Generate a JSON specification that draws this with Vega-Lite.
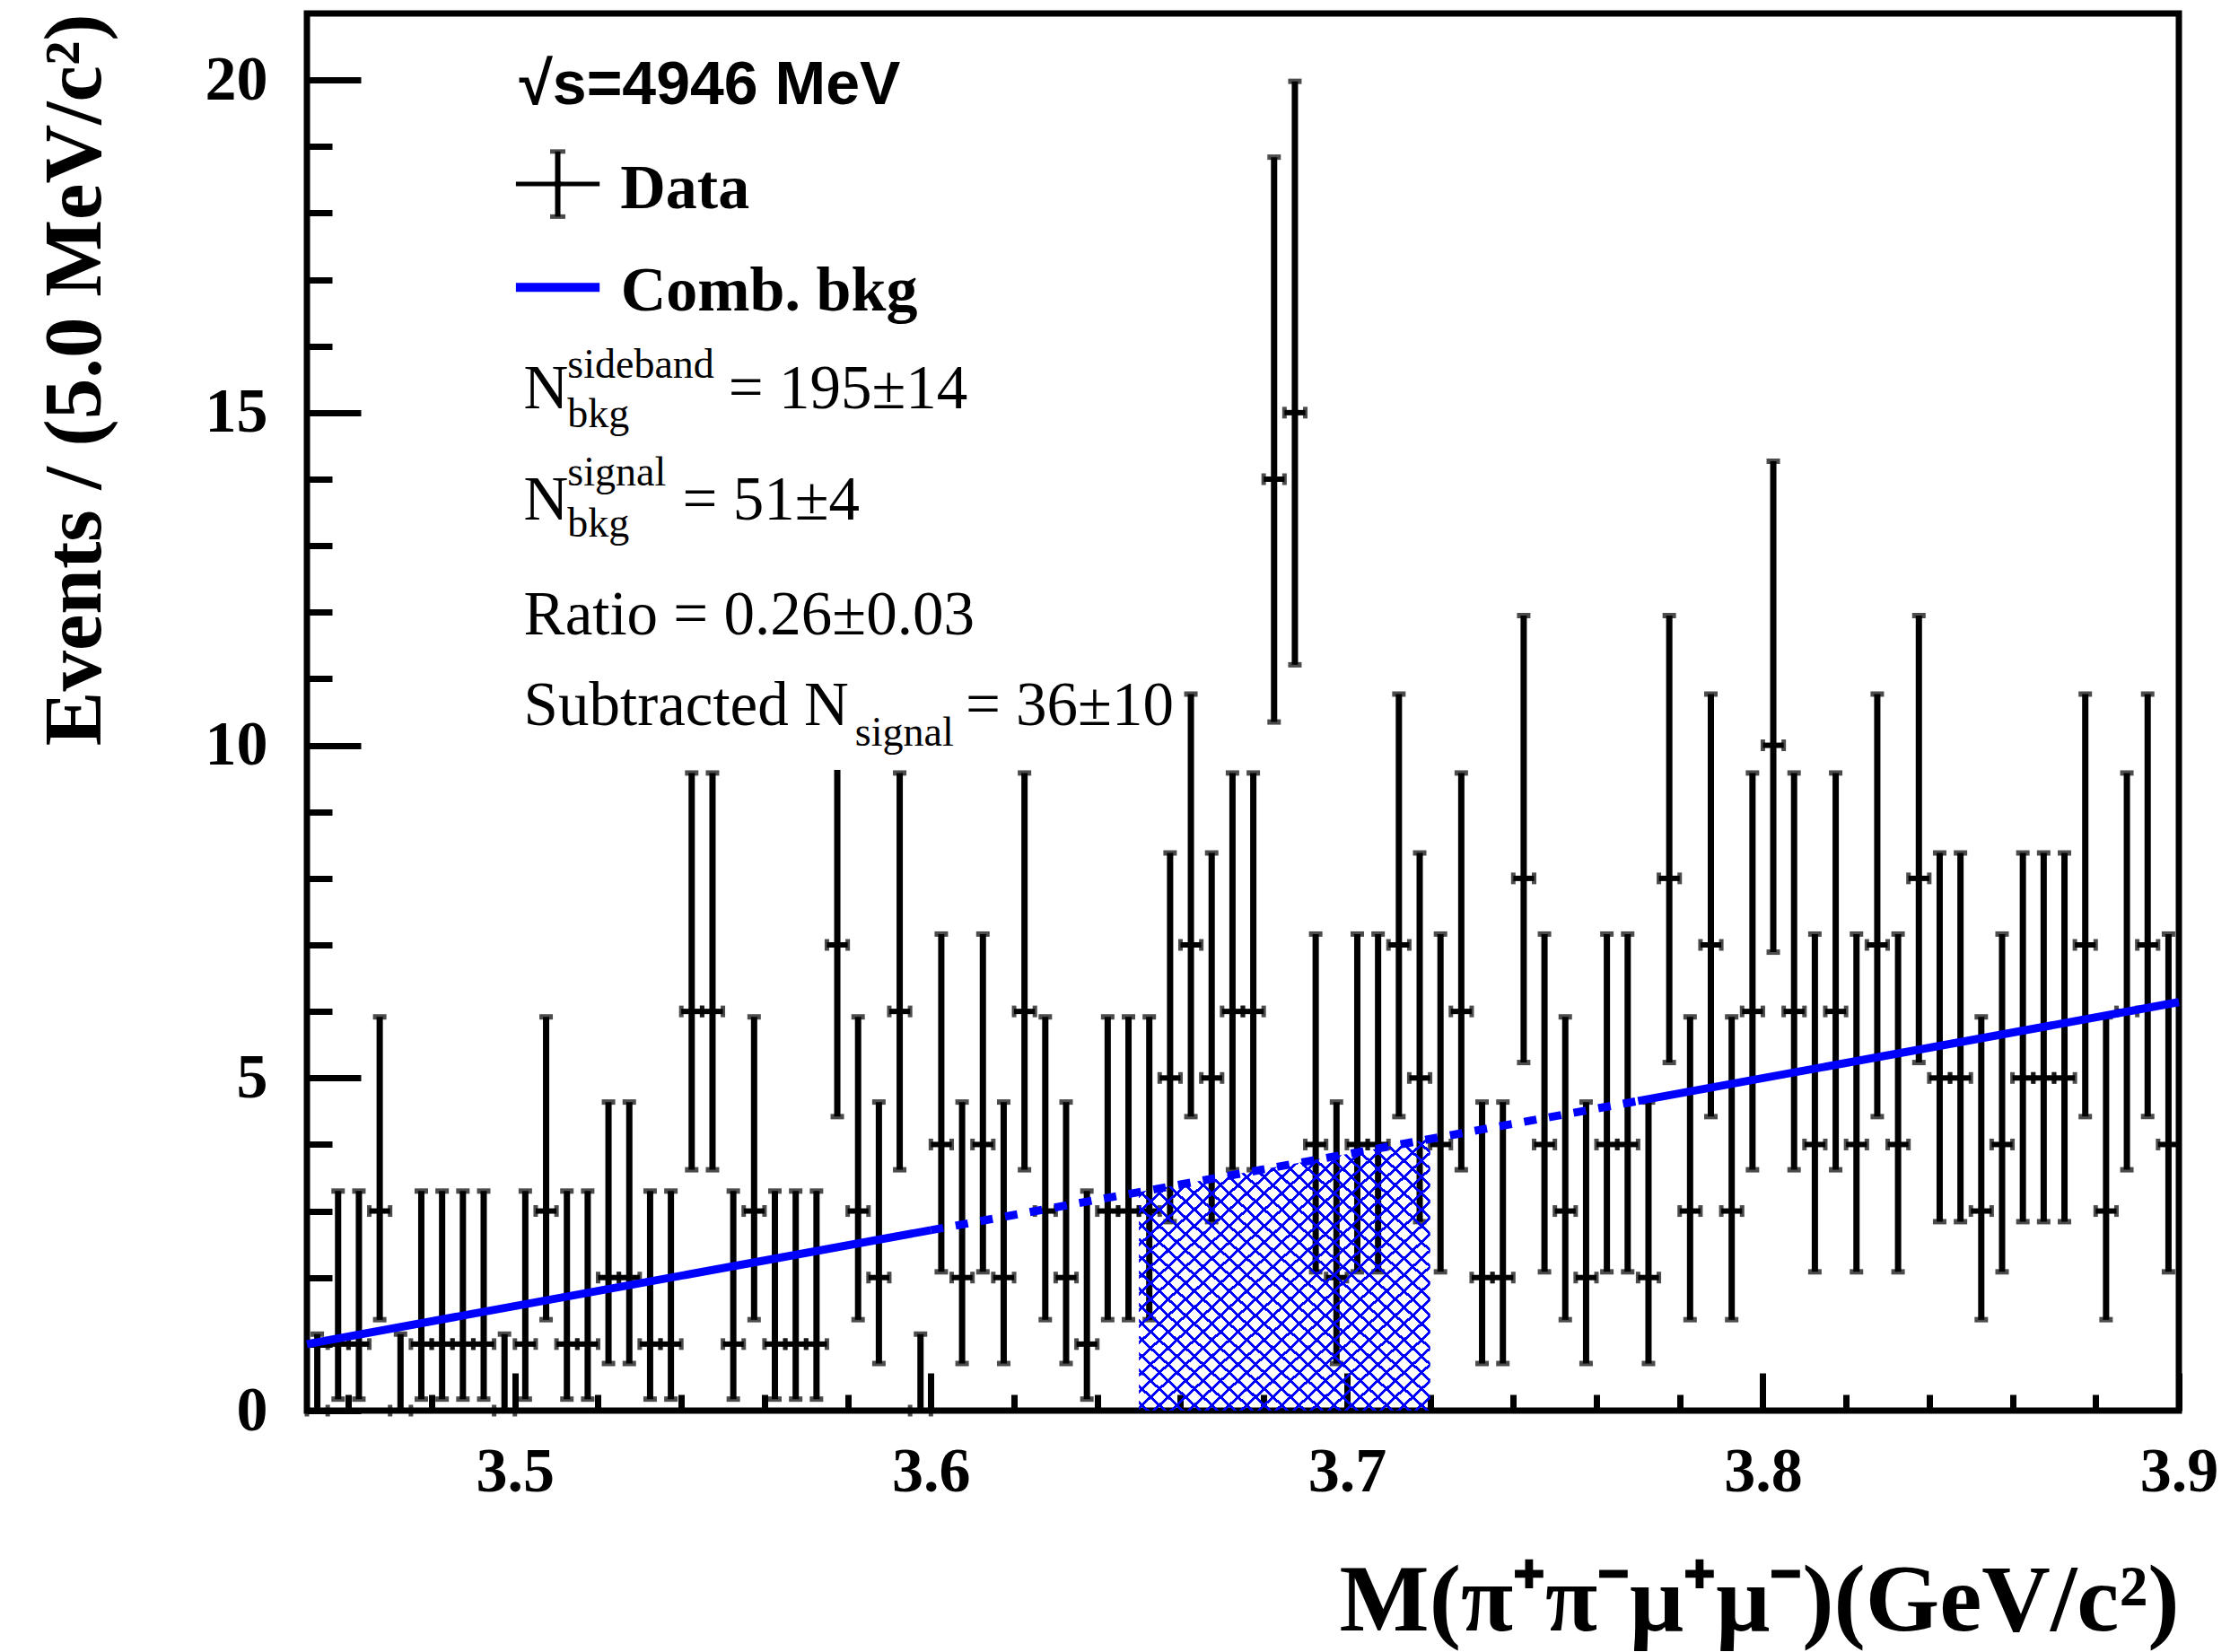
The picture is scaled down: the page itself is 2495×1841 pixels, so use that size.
{
  "$schema": "https://vega.github.io/schema/vega-lite/v6.json",
  "width": 2086,
  "height": 1557,
  "autosize": {"type": "none"},
  "padding": {"left": 342, "top": 15, "right": 67, "bottom": 269},
  "background": "white",
  "config": {
    "view": {"stroke": "black", "strokeWidth": 7},
    "axis": {"domain": false, "grid": false, "tickColor": "black", "tickWidth": 7, "labelFont": "Liberation Serif", "labelFontWeight": "bold", "labelFontSize": 70, "labelColor": "black", "titleFont": "Liberation Serif", "titleFontWeight": "bold", "titleColor": "black", "labelOverlap": false, "labelFlush": false}
  },
  "resolve": {"axis": {"x": "independent", "y": "independent"}},
  "datasets": {
    "bins": [
      {"m":3.4525,"m0":3.45,"m1":3.455,"n":0,"lo":0,"hi":1.15},
      {"m":3.4575,"m0":3.455,"m1":3.46,"n":1,"lo":0.173,"hi":3.3},
      {"m":3.4625,"m0":3.46,"m1":3.465,"n":1,"lo":0.173,"hi":3.3},
      {"m":3.4675,"m0":3.465,"m1":3.47,"n":3,"lo":1.367,"hi":5.918},
      {"m":3.4725,"m0":3.47,"m1":3.475,"n":0,"lo":0,"hi":1.15},
      {"m":3.4775,"m0":3.475,"m1":3.48,"n":1,"lo":0.173,"hi":3.3},
      {"m":3.4825,"m0":3.48,"m1":3.485,"n":1,"lo":0.173,"hi":3.3},
      {"m":3.4875,"m0":3.485,"m1":3.49,"n":1,"lo":0.173,"hi":3.3},
      {"m":3.4925,"m0":3.49,"m1":3.495,"n":1,"lo":0.173,"hi":3.3},
      {"m":3.4975,"m0":3.495,"m1":3.5,"n":0,"lo":0,"hi":1.15},
      {"m":3.5025,"m0":3.5,"m1":3.505,"n":1,"lo":0.173,"hi":3.3},
      {"m":3.5075,"m0":3.505,"m1":3.51,"n":3,"lo":1.367,"hi":5.918},
      {"m":3.5125,"m0":3.51,"m1":3.515,"n":1,"lo":0.173,"hi":3.3},
      {"m":3.5175,"m0":3.515,"m1":3.52,"n":1,"lo":0.173,"hi":3.3},
      {"m":3.5225,"m0":3.52,"m1":3.525,"n":2,"lo":0.708,"hi":4.638},
      {"m":3.5275,"m0":3.525,"m1":3.53,"n":2,"lo":0.708,"hi":4.638},
      {"m":3.5325,"m0":3.53,"m1":3.535,"n":1,"lo":0.173,"hi":3.3},
      {"m":3.5375,"m0":3.535,"m1":3.54,"n":1,"lo":0.173,"hi":3.3},
      {"m":3.5425,"m0":3.54,"m1":3.545,"n":6,"lo":3.62,"hi":9.584},
      {"m":3.5475,"m0":3.545,"m1":3.55,"n":6,"lo":3.62,"hi":9.584},
      {"m":3.5525,"m0":3.55,"m1":3.555,"n":1,"lo":0.173,"hi":3.3},
      {"m":3.5575,"m0":3.555,"m1":3.56,"n":3,"lo":1.367,"hi":5.918},
      {"m":3.5625,"m0":3.56,"m1":3.565,"n":1,"lo":0.173,"hi":3.3},
      {"m":3.5675,"m0":3.565,"m1":3.57,"n":1,"lo":0.173,"hi":3.3},
      {"m":3.5725,"m0":3.57,"m1":3.575,"n":1,"lo":0.173,"hi":3.3},
      {"m":3.5775,"m0":3.575,"m1":3.58,"n":7,"lo":4.419,"hi":10.77},
      {"m":3.5825,"m0":3.58,"m1":3.585,"n":3,"lo":1.367,"hi":5.918},
      {"m":3.5875,"m0":3.585,"m1":3.59,"n":2,"lo":0.708,"hi":4.638},
      {"m":3.5925,"m0":3.59,"m1":3.595,"n":6,"lo":3.62,"hi":9.584},
      {"m":3.5975,"m0":3.595,"m1":3.6,"n":0,"lo":0,"hi":1.15},
      {"m":3.6025,"m0":3.6,"m1":3.605,"n":4,"lo":2.086,"hi":7.163},
      {"m":3.6075,"m0":3.605,"m1":3.61,"n":2,"lo":0.708,"hi":4.638},
      {"m":3.6125,"m0":3.61,"m1":3.615,"n":4,"lo":2.086,"hi":7.163},
      {"m":3.6175,"m0":3.615,"m1":3.62,"n":2,"lo":0.708,"hi":4.638},
      {"m":3.6225,"m0":3.62,"m1":3.625,"n":6,"lo":3.62,"hi":9.584},
      {"m":3.6275,"m0":3.625,"m1":3.63,"n":3,"lo":1.367,"hi":5.918},
      {"m":3.6325,"m0":3.63,"m1":3.635,"n":2,"lo":0.708,"hi":4.638},
      {"m":3.6375,"m0":3.635,"m1":3.64,"n":1,"lo":0.173,"hi":3.3},
      {"m":3.6425,"m0":3.64,"m1":3.645,"n":3,"lo":1.367,"hi":5.918},
      {"m":3.6475,"m0":3.645,"m1":3.65,"n":3,"lo":1.367,"hi":5.918},
      {"m":3.6525,"m0":3.65,"m1":3.655,"n":3,"lo":1.367,"hi":5.918},
      {"m":3.6575,"m0":3.655,"m1":3.66,"n":5,"lo":2.84,"hi":8.382},
      {"m":3.6625,"m0":3.66,"m1":3.665,"n":7,"lo":4.419,"hi":10.77},
      {"m":3.6675,"m0":3.665,"m1":3.67,"n":5,"lo":2.84,"hi":8.382},
      {"m":3.6725,"m0":3.67,"m1":3.675,"n":6,"lo":3.62,"hi":9.584},
      {"m":3.6775,"m0":3.675,"m1":3.68,"n":6,"lo":3.62,"hi":9.584},
      {"m":3.6825,"m0":3.68,"m1":3.685,"n":14,"lo":10.35,"hi":18.84},
      {"m":3.6875,"m0":3.685,"m1":3.69,"n":15,"lo":11.21,"hi":19.98},
      {"m":3.6925,"m0":3.69,"m1":3.695,"n":4,"lo":2.086,"hi":7.163},
      {"m":3.6975,"m0":3.695,"m1":3.7,"n":2,"lo":0.708,"hi":4.638},
      {"m":3.7025,"m0":3.7,"m1":3.705,"n":4,"lo":2.086,"hi":7.163},
      {"m":3.7075,"m0":3.705,"m1":3.71,"n":4,"lo":2.086,"hi":7.163},
      {"m":3.7125,"m0":3.71,"m1":3.715,"n":7,"lo":4.419,"hi":10.77},
      {"m":3.7175,"m0":3.715,"m1":3.72,"n":5,"lo":2.84,"hi":8.382},
      {"m":3.7225,"m0":3.72,"m1":3.725,"n":4,"lo":2.086,"hi":7.163},
      {"m":3.7275,"m0":3.725,"m1":3.73,"n":6,"lo":3.62,"hi":9.584},
      {"m":3.7325,"m0":3.73,"m1":3.735,"n":2,"lo":0.708,"hi":4.638},
      {"m":3.7375,"m0":3.735,"m1":3.74,"n":2,"lo":0.708,"hi":4.638},
      {"m":3.7425,"m0":3.74,"m1":3.745,"n":8,"lo":5.232,"hi":11.95},
      {"m":3.7475,"m0":3.745,"m1":3.75,"n":4,"lo":2.086,"hi":7.163},
      {"m":3.7525,"m0":3.75,"m1":3.755,"n":3,"lo":1.367,"hi":5.918},
      {"m":3.7575,"m0":3.755,"m1":3.76,"n":2,"lo":0.708,"hi":4.638},
      {"m":3.7625,"m0":3.76,"m1":3.765,"n":4,"lo":2.086,"hi":7.163},
      {"m":3.7675,"m0":3.765,"m1":3.77,"n":4,"lo":2.086,"hi":7.163},
      {"m":3.7725,"m0":3.77,"m1":3.775,"n":2,"lo":0.708,"hi":4.638},
      {"m":3.7775,"m0":3.775,"m1":3.78,"n":8,"lo":5.232,"hi":11.95},
      {"m":3.7825,"m0":3.78,"m1":3.785,"n":3,"lo":1.367,"hi":5.918},
      {"m":3.7875,"m0":3.785,"m1":3.79,"n":7,"lo":4.419,"hi":10.77},
      {"m":3.7925,"m0":3.79,"m1":3.795,"n":3,"lo":1.367,"hi":5.918},
      {"m":3.7975,"m0":3.795,"m1":3.8,"n":6,"lo":3.62,"hi":9.584},
      {"m":3.8025,"m0":3.8,"m1":3.805,"n":10,"lo":6.891,"hi":14.27},
      {"m":3.8075,"m0":3.805,"m1":3.81,"n":6,"lo":3.62,"hi":9.584},
      {"m":3.8125,"m0":3.81,"m1":3.815,"n":4,"lo":2.086,"hi":7.163},
      {"m":3.8175,"m0":3.815,"m1":3.82,"n":6,"lo":3.62,"hi":9.584},
      {"m":3.8225,"m0":3.82,"m1":3.825,"n":4,"lo":2.086,"hi":7.163},
      {"m":3.8275,"m0":3.825,"m1":3.83,"n":7,"lo":4.419,"hi":10.77},
      {"m":3.8325,"m0":3.83,"m1":3.835,"n":4,"lo":2.086,"hi":7.163},
      {"m":3.8375,"m0":3.835,"m1":3.84,"n":8,"lo":5.232,"hi":11.95},
      {"m":3.8425,"m0":3.84,"m1":3.845,"n":5,"lo":2.84,"hi":8.382},
      {"m":3.8475,"m0":3.845,"m1":3.85,"n":5,"lo":2.84,"hi":8.382},
      {"m":3.8525,"m0":3.85,"m1":3.855,"n":3,"lo":1.367,"hi":5.918},
      {"m":3.8575,"m0":3.855,"m1":3.86,"n":4,"lo":2.086,"hi":7.163},
      {"m":3.8625,"m0":3.86,"m1":3.865,"n":5,"lo":2.84,"hi":8.382},
      {"m":3.8675,"m0":3.865,"m1":3.87,"n":5,"lo":2.84,"hi":8.382},
      {"m":3.8725,"m0":3.87,"m1":3.875,"n":5,"lo":2.84,"hi":8.382},
      {"m":3.8775,"m0":3.875,"m1":3.88,"n":7,"lo":4.419,"hi":10.77},
      {"m":3.8825,"m0":3.88,"m1":3.885,"n":3,"lo":1.367,"hi":5.918},
      {"m":3.8875,"m0":3.885,"m1":3.89,"n":6,"lo":3.62,"hi":9.584},
      {"m":3.8925,"m0":3.89,"m1":3.895,"n":7,"lo":4.419,"hi":10.77},
      {"m":3.8975,"m0":3.895,"m1":3.9,"n":4,"lo":2.086,"hi":7.163}
    ],
    "bkg": [
      {"seg":"a","m":3.45,"b":1.0},
      {"seg":"a","m":3.6,"b":2.713},
      {"seg":"b","m":3.77,"b":4.654},
      {"seg":"b","m":3.9,"b":6.14}
    ],
    "bkgdash": [
      {"m":3.6,"b":2.713},
      {"m":3.77,"b":4.654}
    ],
    "signal": [
      {"m":3.65,"b":3.284},
      {"m":3.72,"b":4.083}
    ]
  },
  "layer": [
    {
      "data": {"name": "bins"},
      "mark": {"type": "rule", "color": "black", "strokeWidth": 7},
      "encoding": {
        "x": {"field": "m", "type": "quantitative", "scale": {"domain": [3.45, 3.9], "nice": false, "zero": false},
              "axis": {"orient": "bottom", "values": [3.5, 3.6, 3.7, 3.8, 3.9], "format": ".1f", "tickSize": -42, "labelPadding": 76, "title": "M(π⁺π⁻μ⁺μ⁻)(GeV/c²)", "titleFontSize": 106, "titleAnchor": "end", "titlePadding": 57}},
        "y": {"field": "lo", "type": "quantitative", "scale": {"domain": [0, 21], "nice": false, "zero": true},
              "axis": {"orient": "left", "values": [0, 5, 10, 15, 20], "tickSize": -60, "labelPadding": 104, "title": "Events / (5.0 MeV/c²)", "titleFontSize": 91, "titleAnchor": "end", "titlePadding": 98}},
        "y2": {"field": "hi"}
      }
    },
    {
      "data": {"name": "bins"},
      "mark": {"type": "rule", "color": "black", "strokeWidth": 6},
      "encoding": {
        "x": {"field": "m0", "type": "quantitative",
              "axis": {"orient": "bottom", "values": [3.46, 3.48, 3.52, 3.54, 3.56, 3.58, 3.62, 3.64, 3.66, 3.68, 3.72, 3.74, 3.76, 3.78, 3.82, 3.84, 3.86, 3.88], "tickSize": -18, "labels": false, "title": null}},
        "x2": {"field": "m1"},
        "y": {"field": "n", "type": "quantitative",
              "axis": {"orient": "left", "values": [1, 2, 3, 4, 6, 7, 8, 9, 11, 12, 13, 14, 16, 17, 18, 19], "tickSize": -28, "labels": false, "title": null}}
      }
    },
    {
      "data": {"name": "bins"},
      "mark": {"type": "tick", "orient": "horizontal", "color": "black", "size": 15, "thickness": 6},
      "encoding": {
        "x": {"field": "m", "type": "quantitative", "axis": null},
        "y": {"field": "hi", "type": "quantitative", "axis": null}
      }
    },
    {
      "data": {"name": "bins"},
      "mark": {"type": "tick", "orient": "horizontal", "color": "black", "size": 15, "thickness": 6},
      "encoding": {
        "x": {"field": "m", "type": "quantitative", "axis": null},
        "y": {"field": "lo", "type": "quantitative", "axis": null}
      }
    },
    {
      "data": {"name": "bins"},
      "mark": {"type": "tick", "orient": "vertical", "color": "black", "size": 13, "thickness": 5},
      "encoding": {
        "x": {"field": "m0", "type": "quantitative", "axis": null},
        "y": {"field": "n", "type": "quantitative", "axis": null}
      }
    },
    {
      "data": {"name": "bins"},
      "mark": {"type": "tick", "orient": "vertical", "color": "black", "size": 13, "thickness": 5},
      "encoding": {
        "x": {"field": "m1", "type": "quantitative", "axis": null},
        "y": {"field": "n", "type": "quantitative", "axis": null}
      }
    },
    {
      "data": {"name": "signal"},
      "mark": {"type": "area", "stroke": null, "fill": {"gradient": "linear", "x1": 0, "y1": 1, "x2": 1, "y2": 0, "stops": [
        {"offset":0,"color":"#00f0"},
        {"offset":0.012,"color":"#00f0"},{"offset":0.012,"color":"#00f"},{"offset":0.0185,"color":"#00f"},{"offset":0.0185,"color":"#00f0"},
        {"offset":0.042,"color":"#00f0"},{"offset":0.042,"color":"#00f"},{"offset":0.0485,"color":"#00f"},{"offset":0.0485,"color":"#00f0"},
        {"offset":0.072,"color":"#00f0"},{"offset":0.072,"color":"#00f"},{"offset":0.0785,"color":"#00f"},{"offset":0.0785,"color":"#00f0"},
        {"offset":0.102,"color":"#00f0"},{"offset":0.102,"color":"#00f"},{"offset":0.1085,"color":"#00f"},{"offset":0.1085,"color":"#00f0"},
        {"offset":0.132,"color":"#00f0"},{"offset":0.132,"color":"#00f"},{"offset":0.1385,"color":"#00f"},{"offset":0.1385,"color":"#00f0"},
        {"offset":0.162,"color":"#00f0"},{"offset":0.162,"color":"#00f"},{"offset":0.1685,"color":"#00f"},{"offset":0.1685,"color":"#00f0"},
        {"offset":0.192,"color":"#00f0"},{"offset":0.192,"color":"#00f"},{"offset":0.1985,"color":"#00f"},{"offset":0.1985,"color":"#00f0"},
        {"offset":0.222,"color":"#00f0"},{"offset":0.222,"color":"#00f"},{"offset":0.2285,"color":"#00f"},{"offset":0.2285,"color":"#00f0"},
        {"offset":0.252,"color":"#00f0"},{"offset":0.252,"color":"#00f"},{"offset":0.2585,"color":"#00f"},{"offset":0.2585,"color":"#00f0"},
        {"offset":0.282,"color":"#00f0"},{"offset":0.282,"color":"#00f"},{"offset":0.2885,"color":"#00f"},{"offset":0.2885,"color":"#00f0"},
        {"offset":0.312,"color":"#00f0"},{"offset":0.312,"color":"#00f"},{"offset":0.3185,"color":"#00f"},{"offset":0.3185,"color":"#00f0"},
        {"offset":0.342,"color":"#00f0"},{"offset":0.342,"color":"#00f"},{"offset":0.3485,"color":"#00f"},{"offset":0.3485,"color":"#00f0"},
        {"offset":0.372,"color":"#00f0"},{"offset":0.372,"color":"#00f"},{"offset":0.3785,"color":"#00f"},{"offset":0.3785,"color":"#00f0"},
        {"offset":0.402,"color":"#00f0"},{"offset":0.402,"color":"#00f"},{"offset":0.4085,"color":"#00f"},{"offset":0.4085,"color":"#00f0"},
        {"offset":0.432,"color":"#00f0"},{"offset":0.432,"color":"#00f"},{"offset":0.4385,"color":"#00f"},{"offset":0.4385,"color":"#00f0"},
        {"offset":0.462,"color":"#00f0"},{"offset":0.462,"color":"#00f"},{"offset":0.4685,"color":"#00f"},{"offset":0.4685,"color":"#00f0"},
        {"offset":0.492,"color":"#00f0"},{"offset":0.492,"color":"#00f"},{"offset":0.4985,"color":"#00f"},{"offset":0.4985,"color":"#00f0"},
        {"offset":0.522,"color":"#00f0"},{"offset":0.522,"color":"#00f"},{"offset":0.5285,"color":"#00f"},{"offset":0.5285,"color":"#00f0"},
        {"offset":0.552,"color":"#00f0"},{"offset":0.552,"color":"#00f"},{"offset":0.5585,"color":"#00f"},{"offset":0.5585,"color":"#00f0"},
        {"offset":0.582,"color":"#00f0"},{"offset":0.582,"color":"#00f"},{"offset":0.5885,"color":"#00f"},{"offset":0.5885,"color":"#00f0"},
        {"offset":0.612,"color":"#00f0"},{"offset":0.612,"color":"#00f"},{"offset":0.6185,"color":"#00f"},{"offset":0.6185,"color":"#00f0"},
        {"offset":0.642,"color":"#00f0"},{"offset":0.642,"color":"#00f"},{"offset":0.6485,"color":"#00f"},{"offset":0.6485,"color":"#00f0"},
        {"offset":0.672,"color":"#00f0"},{"offset":0.672,"color":"#00f"},{"offset":0.6785,"color":"#00f"},{"offset":0.6785,"color":"#00f0"},
        {"offset":0.702,"color":"#00f0"},{"offset":0.702,"color":"#00f"},{"offset":0.7085,"color":"#00f"},{"offset":0.7085,"color":"#00f0"},
        {"offset":0.732,"color":"#00f0"},{"offset":0.732,"color":"#00f"},{"offset":0.7385,"color":"#00f"},{"offset":0.7385,"color":"#00f0"},
        {"offset":0.762,"color":"#00f0"},{"offset":0.762,"color":"#00f"},{"offset":0.7685,"color":"#00f"},{"offset":0.7685,"color":"#00f0"},
        {"offset":0.792,"color":"#00f0"},{"offset":0.792,"color":"#00f"},{"offset":0.7985,"color":"#00f"},{"offset":0.7985,"color":"#00f0"},
        {"offset":0.822,"color":"#00f0"},{"offset":0.822,"color":"#00f"},{"offset":0.8285,"color":"#00f"},{"offset":0.8285,"color":"#00f0"},
        {"offset":0.852,"color":"#00f0"},{"offset":0.852,"color":"#00f"},{"offset":0.8585,"color":"#00f"},{"offset":0.8585,"color":"#00f0"},
        {"offset":0.882,"color":"#00f0"},{"offset":0.882,"color":"#00f"},{"offset":0.8885,"color":"#00f"},{"offset":0.8885,"color":"#00f0"},
        {"offset":0.912,"color":"#00f0"},{"offset":0.912,"color":"#00f"},{"offset":0.9185,"color":"#00f"},{"offset":0.9185,"color":"#00f0"},
        {"offset":0.942,"color":"#00f0"},{"offset":0.942,"color":"#00f"},{"offset":0.9485,"color":"#00f"},{"offset":0.9485,"color":"#00f0"},
        {"offset":0.972,"color":"#00f0"},{"offset":0.972,"color":"#00f"},{"offset":0.9785,"color":"#00f"},{"offset":0.9785,"color":"#00f0"},
        {"offset":1,"color":"#00f0"}
      ]}},
      "encoding": {
        "x": {"field": "m", "type": "quantitative", "axis": null},
        "y": {"field": "b", "type": "quantitative", "axis": null},
        "y2": {"datum": 0}
      }
    },
    {
      "data": {"name": "signal"},
      "mark": {"type": "area", "stroke": null, "fill": {"gradient": "linear", "x1": 0, "y1": 0, "x2": 1, "y2": 1, "stops": [
        {"offset":0,"color":"#00f0"},
        {"offset":0.012,"color":"#00f0"},{"offset":0.012,"color":"#00f"},{"offset":0.0185,"color":"#00f"},{"offset":0.0185,"color":"#00f0"},
        {"offset":0.042,"color":"#00f0"},{"offset":0.042,"color":"#00f"},{"offset":0.0485,"color":"#00f"},{"offset":0.0485,"color":"#00f0"},
        {"offset":0.072,"color":"#00f0"},{"offset":0.072,"color":"#00f"},{"offset":0.0785,"color":"#00f"},{"offset":0.0785,"color":"#00f0"},
        {"offset":0.102,"color":"#00f0"},{"offset":0.102,"color":"#00f"},{"offset":0.1085,"color":"#00f"},{"offset":0.1085,"color":"#00f0"},
        {"offset":0.132,"color":"#00f0"},{"offset":0.132,"color":"#00f"},{"offset":0.1385,"color":"#00f"},{"offset":0.1385,"color":"#00f0"},
        {"offset":0.162,"color":"#00f0"},{"offset":0.162,"color":"#00f"},{"offset":0.1685,"color":"#00f"},{"offset":0.1685,"color":"#00f0"},
        {"offset":0.192,"color":"#00f0"},{"offset":0.192,"color":"#00f"},{"offset":0.1985,"color":"#00f"},{"offset":0.1985,"color":"#00f0"},
        {"offset":0.222,"color":"#00f0"},{"offset":0.222,"color":"#00f"},{"offset":0.2285,"color":"#00f"},{"offset":0.2285,"color":"#00f0"},
        {"offset":0.252,"color":"#00f0"},{"offset":0.252,"color":"#00f"},{"offset":0.2585,"color":"#00f"},{"offset":0.2585,"color":"#00f0"},
        {"offset":0.282,"color":"#00f0"},{"offset":0.282,"color":"#00f"},{"offset":0.2885,"color":"#00f"},{"offset":0.2885,"color":"#00f0"},
        {"offset":0.312,"color":"#00f0"},{"offset":0.312,"color":"#00f"},{"offset":0.3185,"color":"#00f"},{"offset":0.3185,"color":"#00f0"},
        {"offset":0.342,"color":"#00f0"},{"offset":0.342,"color":"#00f"},{"offset":0.3485,"color":"#00f"},{"offset":0.3485,"color":"#00f0"},
        {"offset":0.372,"color":"#00f0"},{"offset":0.372,"color":"#00f"},{"offset":0.3785,"color":"#00f"},{"offset":0.3785,"color":"#00f0"},
        {"offset":0.402,"color":"#00f0"},{"offset":0.402,"color":"#00f"},{"offset":0.4085,"color":"#00f"},{"offset":0.4085,"color":"#00f0"},
        {"offset":0.432,"color":"#00f0"},{"offset":0.432,"color":"#00f"},{"offset":0.4385,"color":"#00f"},{"offset":0.4385,"color":"#00f0"},
        {"offset":0.462,"color":"#00f0"},{"offset":0.462,"color":"#00f"},{"offset":0.4685,"color":"#00f"},{"offset":0.4685,"color":"#00f0"},
        {"offset":0.492,"color":"#00f0"},{"offset":0.492,"color":"#00f"},{"offset":0.4985,"color":"#00f"},{"offset":0.4985,"color":"#00f0"},
        {"offset":0.522,"color":"#00f0"},{"offset":0.522,"color":"#00f"},{"offset":0.5285,"color":"#00f"},{"offset":0.5285,"color":"#00f0"},
        {"offset":0.552,"color":"#00f0"},{"offset":0.552,"color":"#00f"},{"offset":0.5585,"color":"#00f"},{"offset":0.5585,"color":"#00f0"},
        {"offset":0.582,"color":"#00f0"},{"offset":0.582,"color":"#00f"},{"offset":0.5885,"color":"#00f"},{"offset":0.5885,"color":"#00f0"},
        {"offset":0.612,"color":"#00f0"},{"offset":0.612,"color":"#00f"},{"offset":0.6185,"color":"#00f"},{"offset":0.6185,"color":"#00f0"},
        {"offset":0.642,"color":"#00f0"},{"offset":0.642,"color":"#00f"},{"offset":0.6485,"color":"#00f"},{"offset":0.6485,"color":"#00f0"},
        {"offset":0.672,"color":"#00f0"},{"offset":0.672,"color":"#00f"},{"offset":0.6785,"color":"#00f"},{"offset":0.6785,"color":"#00f0"},
        {"offset":0.702,"color":"#00f0"},{"offset":0.702,"color":"#00f"},{"offset":0.7085,"color":"#00f"},{"offset":0.7085,"color":"#00f0"},
        {"offset":0.732,"color":"#00f0"},{"offset":0.732,"color":"#00f"},{"offset":0.7385,"color":"#00f"},{"offset":0.7385,"color":"#00f0"},
        {"offset":0.762,"color":"#00f0"},{"offset":0.762,"color":"#00f"},{"offset":0.7685,"color":"#00f"},{"offset":0.7685,"color":"#00f0"},
        {"offset":0.792,"color":"#00f0"},{"offset":0.792,"color":"#00f"},{"offset":0.7985,"color":"#00f"},{"offset":0.7985,"color":"#00f0"},
        {"offset":0.822,"color":"#00f0"},{"offset":0.822,"color":"#00f"},{"offset":0.8285,"color":"#00f"},{"offset":0.8285,"color":"#00f0"},
        {"offset":0.852,"color":"#00f0"},{"offset":0.852,"color":"#00f"},{"offset":0.8585,"color":"#00f"},{"offset":0.8585,"color":"#00f0"},
        {"offset":0.882,"color":"#00f0"},{"offset":0.882,"color":"#00f"},{"offset":0.8885,"color":"#00f"},{"offset":0.8885,"color":"#00f0"},
        {"offset":0.912,"color":"#00f0"},{"offset":0.912,"color":"#00f"},{"offset":0.9185,"color":"#00f"},{"offset":0.9185,"color":"#00f0"},
        {"offset":0.942,"color":"#00f0"},{"offset":0.942,"color":"#00f"},{"offset":0.9485,"color":"#00f"},{"offset":0.9485,"color":"#00f0"},
        {"offset":0.972,"color":"#00f0"},{"offset":0.972,"color":"#00f"},{"offset":0.9785,"color":"#00f"},{"offset":0.9785,"color":"#00f0"},
        {"offset":1,"color":"#00f0"}
      ]}},
      "encoding": {
        "x": {"field": "m", "type": "quantitative", "axis": null},
        "y": {"field": "b", "type": "quantitative", "axis": null},
        "y2": {"datum": 0}
      }
    },
    {
      "data": {"name": "bkg"},
      "mark": {"type": "line", "color": "#0000ff", "strokeWidth": 9},
      "encoding": {
        "x": {"field": "m", "type": "quantitative", "axis": null},
        "y": {"field": "b", "type": "quantitative", "axis": null},
        "detail": {"field": "seg"}
      }
    },
    {
      "data": {"name": "bkgdash"},
      "mark": {"type": "line", "color": "#0000ff", "strokeWidth": 9, "strokeDash": [14, 14]},
      "encoding": {
        "x": {"field": "m", "type": "quantitative", "axis": null},
        "y": {"field": "b", "type": "quantitative", "axis": null}
      }
    },
    {
      "data": {"values": [{}]},
      "mark": {"type": "rect", "color": "white", "opacity": 1},
      "encoding": {
        "x": {"datum": 3.49, "type": "quantitative", "axis": null},
        "x2": {"datum": 3.659},
        "y": {"datum": 9.63, "type": "quantitative", "axis": null},
        "y2": {"datum": 20.6}
      }
    },
    {
      "data": {"values": [{}]},
      "mark": {"type": "rule", "color": "black", "strokeWidth": 6},
      "encoding": {
        "x": {"datum": 3.5103, "type": "quantitative", "axis": null},
        "y": {"datum": 17.947, "type": "quantitative", "axis": null},
        "y2": {"datum": 18.925}
      }
    },
    {
      "data": {"values": [{}]},
      "mark": {"type": "rule", "color": "black", "strokeWidth": 5},
      "encoding": {
        "x": {"datum": 3.50024, "type": "quantitative", "axis": null},
        "x2": {"datum": 3.52037},
        "y": {"datum": 18.436, "type": "quantitative", "axis": null}
      }
    },
    {
      "data": {"values": [{}]},
      "mark": {"type": "tick", "orient": "horizontal", "color": "black", "size": 17, "thickness": 5},
      "encoding": {
        "x": {"datum": 3.5103, "type": "quantitative", "axis": null},
        "y": {"datum": 18.925, "type": "quantitative", "axis": null}
      }
    },
    {
      "data": {"values": [{}]},
      "mark": {"type": "tick", "orient": "horizontal", "color": "black", "size": 17, "thickness": 5},
      "encoding": {
        "x": {"datum": 3.5103, "type": "quantitative", "axis": null},
        "y": {"datum": 17.947, "type": "quantitative", "axis": null}
      }
    },
    {
      "data": {"values": [{}]},
      "mark": {"type": "point", "filled": true, "color": "black", "size": 70, "opacity": 1},
      "encoding": {
        "x": {"datum": 3.5103, "type": "quantitative", "axis": null},
        "y": {"datum": 18.436, "type": "quantitative", "axis": null}
      }
    },
    {
      "data": {"values": [{}]},
      "mark": {"type": "rule", "color": "#0000ff", "strokeWidth": 10},
      "encoding": {
        "x": {"datum": 3.50024, "type": "quantitative", "axis": null},
        "x2": {"datum": 3.52037},
        "y": {"datum": 16.884, "type": "quantitative", "axis": null}
      }
    },
    {
      "data": {"values": [{}]},
      "mark": {"type": "text", "text": "√s=4946 MeV", "align": "left", "baseline": "alphabetic", "font": "Liberation Sans", "fontWeight": "bold", "fontSize": 68, "color": "black"},
      "encoding": {
        "x": {"datum": 3.50102, "type": "quantitative", "axis": null},
        "y": {"datum": 19.644, "type": "quantitative", "axis": null}
      }
    },
    {
      "data": {"values": [{}]},
      "mark": {"type": "text", "text": "Data", "align": "left", "baseline": "alphabetic", "font": "Liberation Serif", "fontWeight": "bold", "fontSize": 70, "color": "black"},
      "encoding": {
        "x": {"datum": 3.52535, "type": "quantitative", "axis": null},
        "y": {"datum": 18.072, "type": "quantitative", "axis": null}
      }
    },
    {
      "data": {"values": [{}]},
      "mark": {"type": "text", "text": "Comb. bkg", "align": "left", "baseline": "alphabetic", "font": "Liberation Serif", "fontWeight": "bold", "fontSize": 70, "color": "black"},
      "encoding": {
        "x": {"datum": 3.52545, "type": "quantitative", "axis": null},
        "y": {"datum": 16.53, "type": "quantitative", "axis": null}
      }
    },
    {
      "data": {"values": [{}]},
      "mark": {"type": "text", "text": "N", "align": "left", "baseline": "alphabetic", "font": "Liberation Serif", "fontSize": 69, "color": "black"},
      "encoding": {
        "x": {"datum": 3.50212, "type": "quantitative", "axis": null},
        "y": {"datum": 15.06, "type": "quantitative", "axis": null}
      }
    },
    {
      "data": {"values": [{}]},
      "mark": {"type": "text", "text": "sideband", "align": "left", "baseline": "alphabetic", "font": "Liberation Serif", "fontSize": 46, "color": "black"},
      "encoding": {
        "x": {"datum": 3.51262, "type": "quantitative", "axis": null},
        "y": {"datum": 15.53, "type": "quantitative", "axis": null}
      }
    },
    {
      "data": {"values": [{}]},
      "mark": {"type": "text", "text": "bkg", "align": "left", "baseline": "alphabetic", "font": "Liberation Serif", "fontSize": 46, "color": "black"},
      "encoding": {
        "x": {"datum": 3.51262, "type": "quantitative", "axis": null},
        "y": {"datum": 14.78, "type": "quantitative", "axis": null}
      }
    },
    {
      "data": {"values": [{}]},
      "mark": {"type": "text", "text": "= 195±14", "align": "left", "baseline": "alphabetic", "font": "Liberation Serif", "fontSize": 69, "color": "black"},
      "encoding": {
        "x": {"datum": 3.55135, "type": "quantitative", "axis": null},
        "y": {"datum": 15.06, "type": "quantitative", "axis": null}
      }
    },
    {
      "data": {"values": [{}]},
      "mark": {"type": "text", "text": "N", "align": "left", "baseline": "alphabetic", "font": "Liberation Serif", "fontSize": 69, "color": "black"},
      "encoding": {
        "x": {"datum": 3.50212, "type": "quantitative", "axis": null},
        "y": {"datum": 13.39, "type": "quantitative", "axis": null}
      }
    },
    {
      "data": {"values": [{}]},
      "mark": {"type": "text", "text": "signal", "align": "left", "baseline": "alphabetic", "font": "Liberation Serif", "fontSize": 46, "color": "black"},
      "encoding": {
        "x": {"datum": 3.51262, "type": "quantitative", "axis": null},
        "y": {"datum": 13.91, "type": "quantitative", "axis": null}
      }
    },
    {
      "data": {"values": [{}]},
      "mark": {"type": "text", "text": "bkg", "align": "left", "baseline": "alphabetic", "font": "Liberation Serif", "fontSize": 46, "color": "black"},
      "encoding": {
        "x": {"datum": 3.51262, "type": "quantitative", "axis": null},
        "y": {"datum": 13.14, "type": "quantitative", "axis": null}
      }
    },
    {
      "data": {"values": [{}]},
      "mark": {"type": "text", "text": "= 51±4", "align": "left", "baseline": "alphabetic", "font": "Liberation Serif", "fontSize": 69, "color": "black"},
      "encoding": {
        "x": {"datum": 3.54028, "type": "quantitative", "axis": null},
        "y": {"datum": 13.39, "type": "quantitative", "axis": null}
      }
    },
    {
      "data": {"values": [{}]},
      "mark": {"type": "text", "text": "Ratio = 0.26±0.03", "align": "left", "baseline": "alphabetic", "font": "Liberation Serif", "fontSize": 69, "color": "black"},
      "encoding": {
        "x": {"datum": 3.50212, "type": "quantitative", "axis": null},
        "y": {"datum": 11.67, "type": "quantitative", "axis": null}
      }
    },
    {
      "data": {"values": [{}]},
      "mark": {"type": "text", "text": "Subtracted N", "align": "left", "baseline": "alphabetic", "font": "Liberation Serif", "fontSize": 69, "color": "black"},
      "encoding": {
        "x": {"datum": 3.50212, "type": "quantitative", "axis": null},
        "y": {"datum": 10.3, "type": "quantitative", "axis": null}
      }
    },
    {
      "data": {"values": [{}]},
      "mark": {"type": "text", "text": "signal", "align": "left", "baseline": "alphabetic", "font": "Liberation Serif", "fontSize": 46, "color": "black"},
      "encoding": {
        "x": {"datum": 3.58177, "type": "quantitative", "axis": null},
        "y": {"datum": 9.99, "type": "quantitative", "axis": null}
      }
    },
    {
      "data": {"values": [{}]},
      "mark": {"type": "text", "text": "= 36±10", "align": "left", "baseline": "alphabetic", "font": "Liberation Serif", "fontSize": 69, "color": "black"},
      "encoding": {
        "x": {"datum": 3.60832, "type": "quantitative", "axis": null},
        "y": {"datum": 10.3, "type": "quantitative", "axis": null}
      }
    }
  ]
}
